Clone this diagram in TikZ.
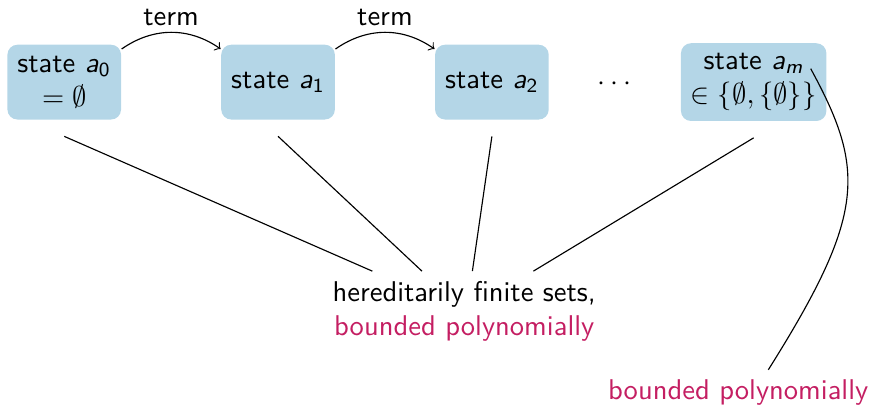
\documentclass[tikz,border=0pt]{standalone}
\usetikzlibrary{positioning}

\definecolor{boxblue}{RGB}{180,214,231}
\definecolor{boundred}{RGB}{196,30,98}

\newcommand{\svar}[2]{\textsl{#1}\textsubscript{#2}}

\begin{document}
\begin{tikzpicture}[
  font=\sffamily,
  statebox/.style={fill=boxblue, rounded corners=3.5pt, align=center, inner sep=3.5pt, minimum height=0.92cm},
  bound/.style={text=boundred}
]
\useasboundingbox (0,0) rectangle (10.75,-5.02);

\node[statebox] (a0) at (0.79,-1.01) {state \svar{a}{0}\\$=\emptyset$};
\node[statebox] (a1) at (3.42,-1.01) {state \svar{a}{1}};
\node[statebox] (a2) at (6.05,-1.01) {state \svar{a}{2}};
\node (dots) at (7.56,-1.04) {$\cdots$};
\node[statebox] (am) at (9.27,-1.01) {state \svar{a}{\textsl{m}}\\$\in\{\emptyset,\{\emptyset\}\}$};

\node[align=center] (hf) at (5.71,-3.83) {hereditarily finite sets,\\\textcolor{boundred}{bounded polynomially}};
\node[bound] (bp) at (9.08,-4.83) {bounded polynomially};

\draw[->] ([yshift=-0.06cm]a0.north east) to[bend left=35] node[above, inner sep=2pt] {term} ([yshift=-0.06cm]a1.north west);
\draw[->] ([yshift=-0.06cm]a1.north east) to[bend left=35] node[above, inner sep=2pt] {term} ([yshift=-0.06cm]a2.north west);

\draw ([yshift=-0.2cm]a0.south) -- ([xshift=-1.13cm]hf.north);
\draw ([yshift=-0.2cm]a1.south) -- ([xshift=-0.52cm]hf.north);
\draw ([yshift=-0.2cm]a2.south) -- ([xshift=0.10cm]hf.north);
\draw ([yshift=-0.2cm]am.south) -- ([xshift=0.85cm]hf.north);

\draw ([xshift=-0.2cm,yshift=-0.32cm]am.north east) .. controls (10.65,-2.09) and (10.65,-2.64) .. ([xshift=0.37cm]bp.north);
\end{tikzpicture}
\end{document}
